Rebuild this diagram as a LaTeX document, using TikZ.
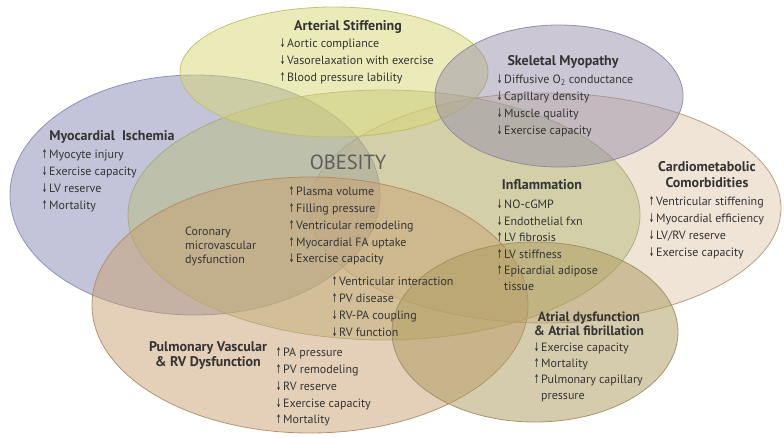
\documentclass[tikz,border=0pt]{standalone}
\usepackage{fontspec}
\usepackage{graphicx}
\setmainfont{PT Sans}
\newfontfamily\arrowfont{DejaVu Sans}
\usepackage{tikz}
\usetikzlibrary{positioning}

\definecolor{artfill}{RGB}{215,215,115}
\definecolor{artline}{RGB}{190,190,100}
\definecolor{skmfill}{RGB}{151,143,169}
\definecolor{skmline}{RGB}{140,135,155}
\definecolor{myofill}{RGB}{135,137,180}
\definecolor{myoline}{RGB}{135,138,180}
\definecolor{obefill}{RGB}{185,189,125}
\definecolor{obeline}{RGB}{168,170,120}
\definecolor{cmcfill}{RGB}{223,201,173}
\definecolor{cmcline}{RGB}{180,152,118}
\definecolor{pvrfill}{RGB}{201,161,113}
\definecolor{pvrline}{RGB}{176,138,100}
\definecolor{atrfill}{RGB}{172,154,92}
\definecolor{atrline}{RGB}{160,140,95}
\definecolor{inktext}{RGB}{52,52,52}

\newcommand{\upa}{{\arrowfont\bfseries\scalebox{0.5}[1]{↑}}\,}
\newcommand{\dna}{{\arrowfont\bfseries\scalebox{0.5}[1]{↓}}\,}

\begin{document}
\begin{tikzpicture}[x=1pt,y=-1pt,
  blob/.style={fill opacity=0.5,draw opacity=0.9,line width=0.8pt},
  head node/.style={font=\fontsize{14}{15}\selectfont\bfseries,text=inktext,align=center,inner sep=0pt},
  item node/.style={font=\fontsize{12}{16.7}\selectfont,text=inktext,align=left,anchor=north west,inner sep=0pt}]

  \useasboundingbox (0,0) rectangle (784,437);

  % circles of the diagram
  \filldraw[blob,fill=cmcfill,draw=cmcline] (545,208) ellipse [x radius=236,y radius=115];
  \filldraw[blob,fill=myofill,draw=myoline] (195,195) ellipse [x radius=185,y radius=120];
  \filldraw[blob,fill=obefill,draw=obeline] (384,215) ellipse [x radius=256,y radius=125];
  \filldraw[blob,fill=artfill,draw=artline] (334,72) ellipse [x radius=154,y radius=65];
  \filldraw[blob,fill=skmfill,draw=skmline] (559,96) ellipse [x radius=124,y radius=71];
  \filldraw[blob,fill=pvrfill,draw=pvrline] (310,305) ellipse [x radius=218,y radius=128];
  \filldraw[blob,fill=atrfill,draw=atrline] (535,332) ellipse [x radius=143,y radius=90];

  \node[head node] (art) at (348,27) {Arterial Stiffening};
  \node[item node] (artlist) at (280,39) {\dna Aortic compliance\\ \dna Vasorelaxation with exercise\\ \upa Blood pressure lability};

  \node[head node] (skm) at (563,62) {Skeletal Myopathy};
  \node[item node] (skmlist) at (497,75) {\dna Diffusive O\textsubscript{2} conductance\\ \dna Capillary density\\ \dna Muscle quality\\ \dna Exercise capacity};

  \node[head node] (myo) at (112,137) {Myocardial\ \ Ischemia};
  \node[item node] (myolist) at (42,150) {\upa Myocyte injury\\ \dna Exercise capacity\\ \dna LV reserve\\ \upa Mortality};

  \node[font=\fontsize{20.5}{24}\selectfont,text=inktext!80,inner sep=0pt] (obe) at (348,162) {OBESITY};
  \node[item node] (obelist) at (289,187) {\upa Plasma volume\\ \upa Filling pressure\\ \upa Ventricular remodeling\\ \upa Myocardial FA uptake\\ \dna Exercise capacity};

  \node[item node,font=\fontsize{12}{14}\selectfont,anchor=west] (cor) at (185,246) {Coronary\\ microvascular\\ dysfunction};

  \node[item node] (rvlist) at (332,277) {\upa Ventricular interaction\\ \upa PV disease\\ \dna RV-PA coupling\\ \dna RV function};

  \node[head node] (pvr) at (208,355) {Pulmonary Vascular\\ \& RV Dysfunction};
  \node[item node] (pvrlist) at (276,348) {\upa PA pressure\\ \upa PV remodeling\\ \dna RV reserve\\ \dna Exercise capacity\\ \upa Mortality};

  \node[head node] (infl) at (542,185) {Inflammation};
  \node[item node,font=\fontsize{12}{16.4}\selectfont] (infllist) at (497,200) {\dna NO-cGMP\\ \dna Endothelial fxn\\ \upa LV fibrosis\\ \upa LV stiffness\\ \upa Epicardial adipose\\ \phantom{\upa}tissue};

  \node[head node,font=\fontsize{14}{16}\selectfont\bfseries] (cmc) at (707,175) {Cardiometabolic\\ Comorbidities};
  \node[item node] (cmclist) at (649,197) {\upa Ventricular stiffening\\ \dna Myocardial efficiency\\ \dna LV/RV reserve\\ \dna Exercise capacity};

  \node[head node,font=\fontsize{13.5}{14.5}\selectfont\bfseries] (atr) at (589,324) {Atrial dysfunction\\ \& Atrial fibrillation};
  \node[item node,font=\fontsize{12}{16}\selectfont] (atrlist) at (534,343) {\dna Exercise capacity\\ \upa Mortality\\ \upa Pulmonary capillary\\ \phantom{\upa}pressure};
\end{tikzpicture}
\end{document}
